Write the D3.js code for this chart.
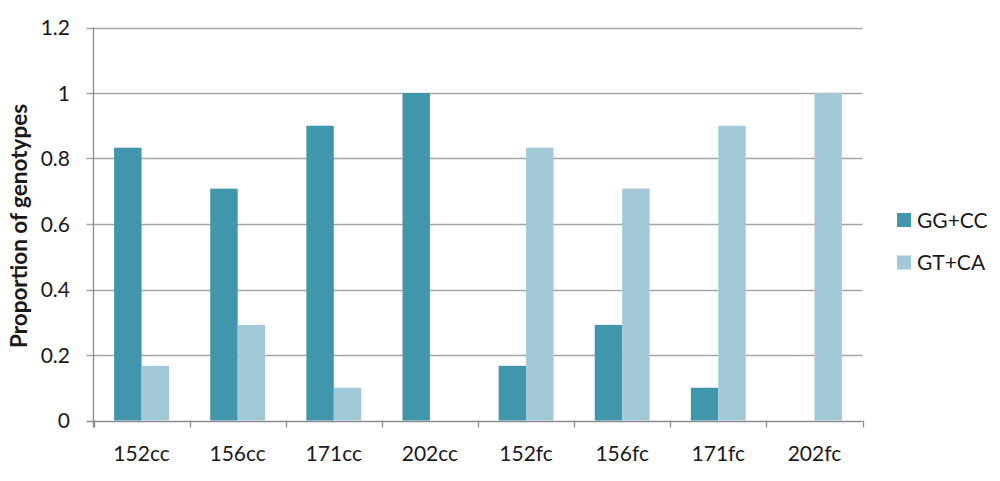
<!DOCTYPE html>
<html><head><meta charset="utf-8">
<script src="https://cdn.jsdelivr.net/npm/d3@7"></script>
<style>body{margin:0;background:#fff;} text{font-family:Lato,"Open Sans",sans-serif;fill:#1a1a1a;}</style>
</head><body>
<svg id="c" width="1000" height="481"></svg>
<script>
const categories = ["152cc","156cc","171cc","202cc","152fc","156fc","171fc","202fc"];
const seriesNames = ["GG+CC","GT+CA"];
const ggcc = [0.833,0.708,0.9,1.0,0.167,0.292,0.1,0.0];
const gtca = [0.167,0.292,0.1,0.0,0.833,0.708,0.9,1.0];
const yTicks = [0,0.2,0.4,0.6,0.8,1,1.2];
const colors = ["#4097ac","#a3c8d7"];

const svg = d3.select("#c");
const L = 93.5, R = 862.5, T = 27.5, B = 420.5;
const FS = 21;
const x = d3.scaleBand().domain(categories).range([L,R]).paddingInner(0).paddingOuter(0);
const xs = d3.scaleBand().domain(seriesNames).range([0,x.bandwidth()]).paddingInner(0).paddingOuter(0.75);
const y = d3.scaleLinear().domain([0,1.2]).range([B,T]);

// gridlines
svg.append("g").selectAll("line").data(yTicks).join("line")
  .attr("x1",L-7).attr("x2",R).attr("y1",d=>Math.round(y(d))+0.5).attr("y2",d=>Math.round(y(d))+0.5)
  .attr("stroke",d=>d===0?"#8c8c8c":"#a6a6a6").attr("stroke-width",1.3);

// y labels
svg.append("g").selectAll("text").data(yTicks).join("text")
  .attr("x",70).attr("y",d=>y(d)).attr("dy","0.36em").attr("text-anchor","end")
  .attr("font-size",FS).text(d=>d3.format("")(d));

// bars
const data = [ggcc,gtca];
data.forEach((vals,si)=>{
  svg.append("g").selectAll("rect").data(categories).join("rect")
    .attr("x",(c)=>x(c)+xs(seriesNames[si]))
    .attr("width",xs.bandwidth())
    .attr("y",(c,i)=>y(vals[i]))
    .attr("height",(c,i)=>y(0)-y(vals[i]))
    .attr("fill",colors[si]);
});

// y axis line
svg.append("line").attr("x1",L).attr("x2",L).attr("y1",T).attr("y2",B+7).attr("stroke","#8c8c8c").attr("stroke-width",1.3);
// x ticks
svg.append("g").selectAll("line").data(d3.range(categories.length+1)).join("line")
  .attr("x1",i=>Math.round(L+i*x.step())+0.5).attr("x2",i=>Math.round(L+i*x.step())+0.5)
  .attr("y1",B).attr("y2",B+7).attr("stroke","#8c8c8c").attr("stroke-width",1.3);

// x labels
svg.append("g").selectAll("text").data(categories).join("text")
  .attr("x",c=>x(c)+x.bandwidth()/2).attr("y",461).attr("text-anchor","middle")
  .attr("font-size",FS).text(c=>c);

// y title
svg.append("text").attr("transform","translate(27,226) rotate(-90)")
  .attr("text-anchor","middle").attr("font-size",22.5).attr("font-weight","bold").text("Proportion of genotypes");

// legend
const lg = svg.append("g").selectAll("g").data(seriesNames).join("g")
  .attr("transform",(d,i)=>`translate(897,${213+i*42.5})`);
lg.append("rect").attr("width",14).attr("height",14).attr("fill",(d,i)=>colors[i]);
lg.append("text").attr("x",20).attr("y",7).attr("dy","0.36em").attr("font-size",FS).text(d=>d);
</script>
</body></html>
